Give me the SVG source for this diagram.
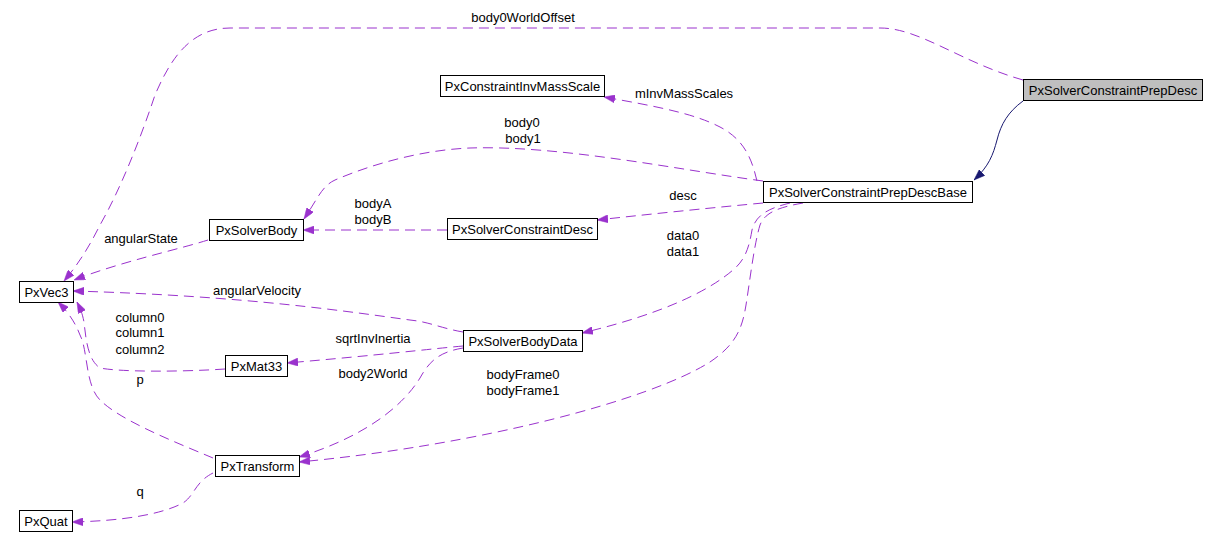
<svg xmlns="http://www.w3.org/2000/svg" width="1217" height="551" viewBox="0 0 1217 551">
<style>
text{font-family:"Liberation Sans",Arial,sans-serif;font-size:13px;fill:#000;text-anchor:middle}
.n rect{fill:#fff;stroke:#000;stroke-width:1}
.n.root rect{fill:#bfbfbf}
.e{fill:none;stroke:#9a32cd;stroke-width:1;stroke-dasharray:10,6}
.inh{fill:none;stroke:#191970;stroke-width:1}
</style>
<defs>
<marker id="ap" viewBox="0 0 11 8" refX="11" refY="4" markerWidth="11" markerHeight="8" markerUnits="userSpaceOnUse" orient="auto"><path d="M0,0 L11,4 L0,8 z" fill="#9a32cd" stroke="#9a32cd" stroke-width="0.5"/></marker>
<marker id="ab" viewBox="0 0 11 8" refX="11" refY="4" markerWidth="11" markerHeight="8" markerUnits="userSpaceOnUse" orient="auto"><path d="M0,0 L11,4 L0,8 z" fill="#191970" stroke="#191970" stroke-width="0.5"/></marker>
</defs>
<g id="edges">
<path class="inh" d="M1023,101 C1008,112 1001,124 997,140 C993,155 989,166 974,180" marker-end="url(#ab)"/>
<path class="e" d="M1023,80 C960,62 920,28 880,28 L230,28 C190,28 170,60 155,95 C140,140 120,190 100,225 C90,245 80,262 64,281" marker-end="url(#ap)"/>
<path class="e" d="M757,181 C752,160 745,140 720,127 C695,114 660,107 604,97" marker-end="url(#ap)"/>
<path class="e" d="M763,181 C680,170 560,145 470,148 C420,150 370,165 335,180 C322,186 318,198 304,219" marker-end="url(#ap)"/>
<path class="e" d="M763,203 C720,207 660,213 597,220" marker-end="url(#ap)"/>
<path class="e" d="M447,230 L303,230" marker-end="url(#ap)"/>
<path class="e" d="M208,240 C180,249 120,262 74,280" marker-end="url(#ap)"/>
<path class="e" d="M463,332 C440,328 430,322 410,320 C350,312 250,296 73,291" marker-end="url(#ap)"/>
<path class="e" d="M463,346 C430,349 380,355 287,363" marker-end="url(#ap)"/>
<path class="e" d="M463,348 C440,352 430,360 420,378 C400,410 360,438 299,457" marker-end="url(#ap)"/>
<path class="e" d="M225,369 C180,372 120,372 100,368 C88,360 86,340 84,322 C82,312 80,308 77,302" marker-end="url(#ap)"/>
<path class="e" d="M213,458 C170,440 120,420 100,400 C85,385 88,350 80,335 C75,322 68,312 58,302" marker-end="url(#ap)"/>
<path class="e" d="M213,473 C195,482 195,495 183,503 C160,515 120,521 72,522" marker-end="url(#ap)"/>
<path class="e" d="M790,203 C770,208 756,214 752,230 C749,248 745,260 733,270 C712,288 670,312 582,333" marker-end="url(#ap)"/>
<path class="e" d="M803,203 C780,207 765,212 760,225 C754,245 750,280 746,305 C742,330 735,345 710,362 C650,400 480,445 299,462" marker-end="url(#ap)"/>
</g>
<g id="edge-labels">
<text x="523" y="22">body0WorldOffset</text>
<text x="684" y="98">mInvMassScales</text>
<text x="522" y="127">body0</text>
<text x="523" y="143">body1</text>
<text x="683" y="200">desc</text>
<text x="683" y="240">data0</text>
<text x="683" y="256">data1</text>
<text x="373" y="208">bodyA</text>
<text x="373" y="224">bodyB</text>
<text x="141" y="243">angularState</text>
<text x="257" y="295">angularVelocity</text>
<text x="140" y="322">column0</text>
<text x="140" y="337">column1</text>
<text x="140" y="354">column2</text>
<text x="140" y="384">p</text>
<text x="373" y="343">sqrtInvInertia</text>
<text x="373" y="378">body2World</text>
<text x="523" y="379">bodyFrame0</text>
<text x="523" y="395">bodyFrame1</text>
<text x="140" y="496">q</text>
</g>
<g id="PxSolverConstraintPrepDesc" class="n root"><rect x="1023.5" y="79.5" width="179" height="21"/><text x="1113" y="94.5">PxSolverConstraintPrepDesc</text></g>
<g id="PxSolverConstraintPrepDescBase" class="n"><rect x="763.5" y="181.5" width="209" height="21"/><text x="868" y="196.5">PxSolverConstraintPrepDescBase</text></g>
<g id="PxConstraintInvMassScale" class="n"><rect x="440.5" y="75.5" width="164" height="21"/><text x="522.5" y="90.5">PxConstraintInvMassScale</text></g>
<g id="PxSolverConstraintDesc" class="n"><rect x="447.5" y="218.5" width="150" height="21"/><text x="522.5" y="233.5">PxSolverConstraintDesc</text></g>
<g id="PxSolverBody" class="n"><rect x="209.5" y="219.5" width="94" height="21"/><text x="256.5" y="234.5">PxSolverBody</text></g>
<g id="PxVec3" class="n"><rect x="19.5" y="281.5" width="54" height="21"/><text x="46.5" y="296.5">PxVec3</text></g>
<g id="PxMat33" class="n"><rect x="225.5" y="355.5" width="62" height="21"/><text x="256.5" y="370.5">PxMat33</text></g>
<g id="PxSolverBodyData" class="n"><rect x="463.5" y="330.5" width="119" height="21"/><text x="523" y="345.5">PxSolverBodyData</text></g>
<g id="PxTransform" class="n"><rect x="215.5" y="455.5" width="84" height="21"/><text x="257.5" y="470.5">PxTransform</text></g>
<g id="PxQuat" class="n"><rect x="19.5" y="510.5" width="53" height="21"/><text x="46" y="525.5">PxQuat</text></g>
</svg>
